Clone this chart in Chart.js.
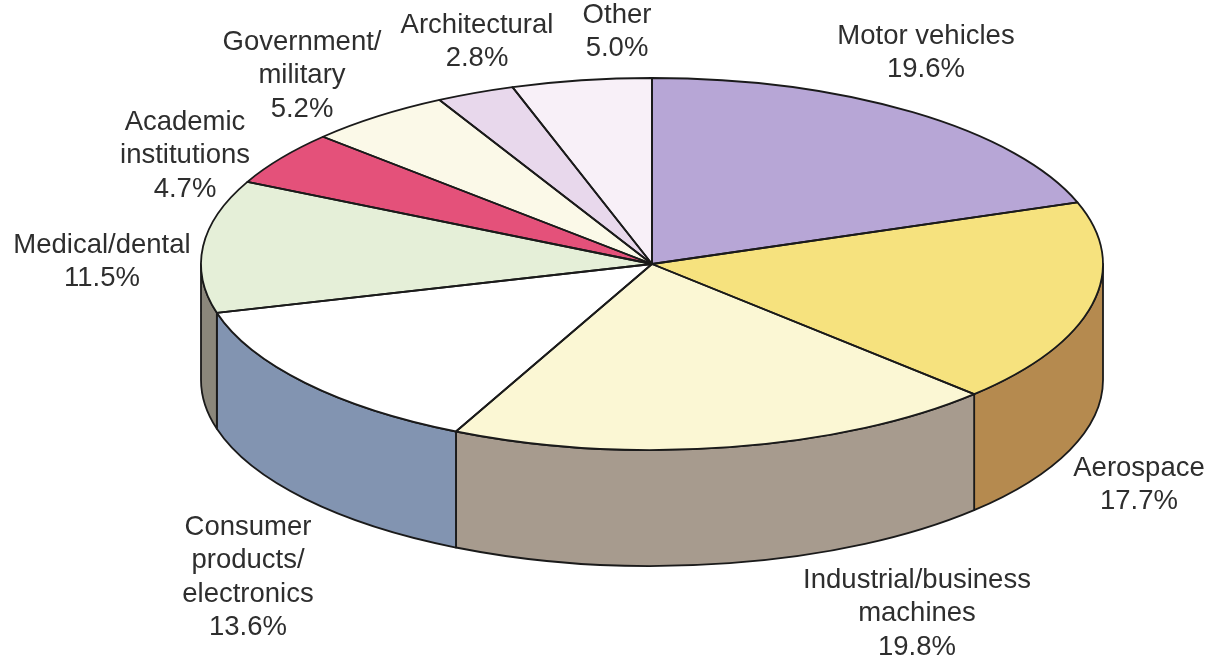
<!DOCTYPE html>
<html>
<head>
<meta charset="utf-8">
<script src="https://cdn.jsdelivr.net/npm/chart.js@4.4.1/dist/chart.umd.min.js"></script>
<style>
  html, body { margin: 0; padding: 0; background: #ffffff; overflow: hidden; width: 1207px; height: 662px; }
  #wrap { position: absolute; left: 0; top: 0; width: 1207px; height: 920px; }
  canvas { display: block; }
</style>
</head>
<body>
<div id="wrap"><canvas id="c" width="1207" height="920"></canvas></div>
<script>
// ---- data ----
const categories = ['Motor vehicles', 'Aerospace', 'Industrial/business machines',
  'Consumer products/electronics', 'Medical/dental', 'Academic institutions',
  'Government/military', 'Architectural', 'Other'];
const shares = [19.6, 17.7, 19.8, 13.6, 11.5, 4.7, 5.2, 2.8, 5.0];
const shareText = ['19.6%', '17.7%', '19.8%', '13.6%', '11.5%', '4.7%', '5.2%', '2.8%', '5.0%'];
const nameLines = [
  ['Motor vehicles'],
  ['Aerospace'],
  ['Industrial/business', 'machines'],
  ['Consumer', 'products/', 'electronics'],
  ['Medical/dental'],
  ['Academic', 'institutions'],
  ['Government/', 'military'],
  ['Architectural'],
  ['Other']
];

// ---- styles ----
const topColors = ['#b7a6d6', '#f6e27e', '#fbf7d4', '#ffffff', '#e5efd8', '#e4517a', '#fbf9e8', '#e8d8ec', '#f8f0f8'];
const sideColors = ['#8f7fb0', '#b58a4f', '#a79b8e', '#8294b1', '#8b877b', '#b04060', '#c9c6b4', '#b9a9be', '#c8c0c8'];
const GEO = { cx: 652, cy: 264, rx: 451, ry: 186, depth: 116 };
const labelAnchors = [
  [926, 36], [1139, 468], [917, 580], [248, 527], [102, 245],
  [185, 122], [302, 42], [477, 25], [617, 15]
];
const LINE_H = 33.5;

const pie3d = {
  id: 'pie3d',
  beforeDatasetsDraw(chart) {
    const ctx = chart.ctx;
    const arcs = chart.getDatasetMeta(0).data;
    const a0 = arcs[0];
    const R = a0.outerRadius;
    const sx = GEO.rx / R, sy = GEO.ry / R;
    // side walls (front half only)
    ctx.save();
    ctx.lineWidth = 1.8;
    ctx.strokeStyle = '#1a1a1a';
    ctx.lineJoin = 'round';
    arcs.forEach((arc, i) => {
      const s = arc.startAngle, e = arc.endAngle;
      for (let k = -1; k <= 1; k++) {
        const lo = Math.max(s, 2 * Math.PI * k);
        const hi = Math.min(e, 2 * Math.PI * k + Math.PI);
        if (hi - lo <= 1e-6) continue;
        ctx.beginPath();
        ctx.ellipse(GEO.cx, GEO.cy, GEO.rx, GEO.ry, 0, lo, hi, false);
        ctx.lineTo(GEO.cx + GEO.rx * Math.cos(hi), GEO.cy + GEO.ry * Math.sin(hi) + GEO.depth);
        ctx.ellipse(GEO.cx, GEO.cy + GEO.depth, GEO.rx, GEO.ry, 0, hi, lo, true);
        ctx.closePath();
        ctx.fillStyle = sideColors[i];
        ctx.fill();
        ctx.stroke();
      }
    });
    ctx.restore();
    // squash the pie's top face into an ellipse
    ctx.save();
    ctx.translate(GEO.cx, GEO.cy);
    ctx.scale(sx, sy);
    ctx.translate(-a0.x, -a0.y);
  },
  afterDatasetsDraw(chart) {
    const ctx = chart.ctx;
    ctx.restore();
    const arcs = chart.getDatasetMeta(0).data;
    ctx.save();
    ctx.lineWidth = 1.8;
    ctx.strokeStyle = '#1a1a1a';
    ctx.lineJoin = 'round';
    arcs.forEach((arc) => {
      ctx.beginPath();
      ctx.moveTo(GEO.cx, GEO.cy);
      ctx.ellipse(GEO.cx, GEO.cy, GEO.rx, GEO.ry, 0, arc.startAngle, arc.endAngle, false);
      ctx.closePath();
      ctx.stroke();
    });
    // labels
    ctx.font = '27.5px "Liberation Sans", Arial, sans-serif';
    ctx.fillStyle = '#2e2e2e';
    ctx.textAlign = 'center';
    ctx.textBaseline = 'middle';
    categories.forEach((c, i) => {
      const lines = nameLines[i].concat([shareText[i]]);
      const [x, y] = labelAnchors[i];
      lines.forEach((t, j) => ctx.fillText(t, x, y + j * LINE_H));
    });
    ctx.restore();
  }
};

new Chart(document.getElementById('c'), {
  type: 'pie',
  data: {
    labels: categories,
    datasets: [{
      data: shares,
      backgroundColor: topColors,
      borderWidth: 0,
      clip: false
    }]
  },
  options: {
    responsive: false,
    animation: false,
    events: [],
    rotation: 0,
    layout: { padding: { left: 97, right: 0, top: 9, bottom: 9 } },
    plugins: { legend: { display: false }, tooltip: { enabled: false } }
  },
  plugins: [pie3d]
});
</script>
</body>
</html>
